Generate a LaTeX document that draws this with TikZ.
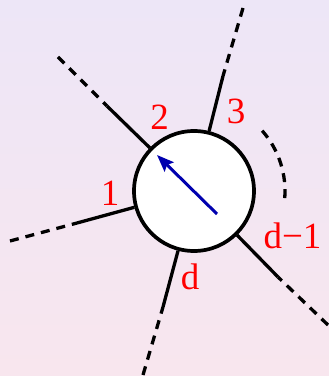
\documentclass[tikz,border=0pt]{standalone}
\usepackage{fontspec}
\setmainfont{Liberation Serif}
\usetikzlibrary{arrows.meta}
\definecolor{bgtop}{RGB}{237,230,247}
\definecolor{bgbot}{RGB}{248,230,238}
\definecolor{arrblue}{RGB}{0,0,175}
\begin{document}
\begin{tikzpicture}[x=1pt,y=1pt,
  leg/.style={line width=3.3pt},
  legdash/.style={line width=3.3pt, dash pattern=on 9pt off 7pt},
  lab/.style={text=red, font=\fontsize{37}{40}\selectfont, inner sep=0pt, anchor=base}]
\shade[top color=bgtop, bottom color=bgbot] (0,0) rectangle (329,376);
\useasboundingbox (0,0) rectangle (329,376);
\node[circle, draw, line width=3.7pt, fill=white, minimum size=120pt, inner sep=0pt] (c) at (194,185) {};
% leg ends
\coordinate (p1) at (77,153);  \coordinate (q1) at (10,135);
\coordinate (p2) at (107,270); \coordinate (q2) at (58,319);
\coordinate (p3) at (223,300); \coordinate (q3) at (243,368);
\coordinate (p4) at (278,99);  \coordinate (q4) at (328,51);
\coordinate (p5) at (163,69);  \coordinate (q5) at (143,1);
\draw[leg] (c) -- (p1); \draw[legdash] (q1) -- (p1);
\draw[leg] (c) -- (p2); \draw[legdash] (q2) -- (p2);
\draw[leg] (c) -- (p3); \draw[legdash] (q3) -- (p3);
\draw[leg] (c) -- (p4); \draw[legdash] (q4) -- (p4);
\draw[leg] (c) -- (p5); \draw[legdash] (q5) -- (p5);
% dashed arc
\draw[legdash] ([shift={(41.5:91)}]c.center) arc[start angle=41.5, end angle=-6, radius=91];
% arrow
\coordinate (a0) at (217,162);
\coordinate (a1) at (157,221);
\draw[arrblue, line width=3pt, -{Stealth[length=17pt,width=13pt,inset=3pt]}] (a0) -- (a1);
% labels
\node[lab] (l1) at (110,171) {1};
\node[lab] (l2) at (159.5,247) {2};
\node[lab] (l3) at (236,252) {3};
\node[lab] (l4) at (292.5,128) {d−1};
\node[lab] (l5) at (190,86) {d};
\end{tikzpicture}
\end{document}
